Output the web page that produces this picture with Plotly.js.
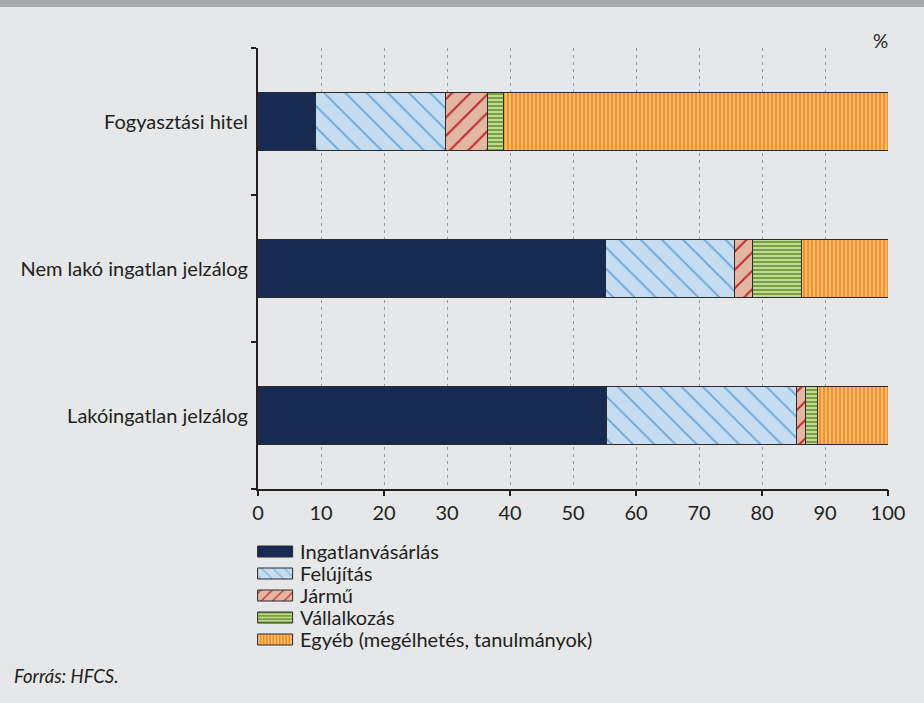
<!DOCTYPE html>
<html>
<head>
<meta charset="utf-8">
<script src="https://cdn.plot.ly/plotly-3.0.1.min.js"></script>
<style>
html,body{margin:0;padding:0;background:#e6e7e8;}
#chart{width:924px;height:703px;}
</style>
</head>
<body>
<div id="chart"></div>
<script>
// Categories (bottom to top as drawn)
const categories = ["Lakóingatlan jelzálog", "Nem lakó ingatlan jelzálog", "Fogyasztási hitel"];
const seriesNames = ["Ingatlanvásárlás", "Felújítás", "Jármű", "Vállalkozás", "Egyéb (megélhetés, tanulmányok)"];
// values in %, same order as categories
const ingatlanvasarlas = [55.3, 55.2, 9.1];
const felujitas = [30.2, 20.4, 20.6];
const jarmu = [1.4, 2.9, 6.8];
const vallalkozas = [1.9, 7.7, 2.4];
const egyeb = [11.2, 13.8, 61.1];
const xTicks = [0, 10, 20, 30, 40, 50, 60, 70, 80, 90, 100];
const xMajorTicks = [0, 20, 40, 60, 80, 100];

const font = "Lato, Open Sans, sans-serif";
const txt = "#231f20";
const outline = {color: "#2b2b2b", width: 1};

const styles = [
  {color: "#172a52"},
  {color: "#c6ddf1", pattern: {shape: "\\", bgcolor: "#c6ddf1", fgcolor: "#72acd9", size: 15, solidity: 0.13}},
  {color: "#e3b5a2", pattern: {shape: "/", bgcolor: "#e3b5a2", fgcolor: "#bd2b2e", size: 13, solidity: 0.15}},
  {color: "#78a23c", pattern: {shape: "-", bgcolor: "#c8dca4", fgcolor: "#78a23c", size: 4, solidity: 0.55}},
  {color: "#f7901e", pattern: {shape: "|", bgcolor: "#fdc791", fgcolor: "#f7901e", size: 4, solidity: 0.6}}
];
const seriesValues = [ingatlanvasarlas, felujitas, jarmu, vallalkozas, egyeb];

const traces = seriesNames.map((name, i) => {
  const m = Object.assign({line: outline}, styles[i]);
  return {
    type: "bar", orientation: "h", name: name,
    y: categories, x: seriesValues[i],
    marker: m, hoverinfo: "skip"
  };
});
// empty trace so the overlaying axis with the long ticks is drawn
traces.push({type: "scatter", x: [], y: [], xaxis: "x2", yaxis: "y", showlegend: false, hoverinfo: "skip"});

const layout = {
  width: 924, height: 703,
  paper_bgcolor: "#e6e7e8", plot_bgcolor: "#e6e7e8",
  margin: {l: 258, r: 36, t: 48, b: 214},
  barmode: "stack", bargap: 0.6,
  showlegend: true,
  font: {family: font, size: 20, color: txt},
  xaxis: {
    range: [0, 100], tickvals: xTicks, ticktext: xTicks.map(String),
    showgrid: true, gridcolor: "#9a9a9a", gridwidth: 1, griddash: "3px,4px",
    showline: true, linecolor: txt, linewidth: 2,
    ticks: "", tickfont: {size: 20, family: font, color: txt}, ticklabelstandoff: 5,
    zeroline: false, fixedrange: true
  },
  xaxis2: {
    overlaying: "x", side: "bottom", range: [0, 100], tickvals: xMajorTicks,
    showticklabels: false, ticks: "outside", ticklen: 6, tickwidth: 2, tickcolor: txt,
    showgrid: false, showline: false, zeroline: false
  },
  yaxis: {
    type: "category", categoryorder: "array", categoryarray: categories,
    showline: true, linecolor: txt, linewidth: 2,
    ticks: "outside", tickson: "boundaries", ticklen: 5, tickwidth: 2, tickcolor: txt,
    showgrid: false, zeroline: false, ticklabelstandoff: 4,
    tickfont: {size: 20, family: font, color: txt}, fixedrange: true
  },
  legend: {
    x: -0.003, xanchor: "left", y: -(532 - 489) / 441, yanchor: "top",
    orientation: "v", traceorder: "normal",
    bgcolor: "rgba(0,0,0,0)", font: {size: 20, family: font, color: txt},
    itemwidth: 34, tracegroupgap: 0
  },
  shapes: [
    {type: "rect", xref: "paper", yref: "paper", x0: -0.5, x1: 1.2,
     y0: (489 - 0) / 441, y1: (489 - 7) / 441, fillcolor: "#a7a8ab", line: {width: 0}, layer: "above"}
  ],
  annotations: [
    {text: "%", xref: "paper", yref: "paper", x: 0.988, y: (489 - 40.5) / 441, xanchor: "center", yanchor: "middle",
     showarrow: false, font: {size: 19, family: font, color: txt}},
    {text: "<i>Forrás: HFCS.</i>", xref: "paper", yref: "paper", x: (12 - 258) / 630, y: (489 - 676) / 441,
     xanchor: "left", yanchor: "middle", showarrow: false, font: {size: 18.5, family: font, color: txt}}
  ]
};

Plotly.newPlot("chart", traces, layout, {displayModeBar: false, staticPlot: true}).then(gd => {
  // wide, flat legend swatches like the original
  gd.querySelectorAll(".legend .traces .legendpoints path").forEach(p => {
    p.setAttribute("d", "M14.5,5.5H-20.5V-5.5H14.5Z");
  });
  // tighter row spacing, as in the original legend
  const items = gd.querySelectorAll(".legend .traces");
  let y0 = null;
  items.forEach((g, i) => {
    const m = /translate\(\s*([-\d.]+)[ ,]+([-\d.]+)\s*\)/.exec(g.getAttribute("transform") || "");
    if (!m) return;
    if (y0 === null) y0 = parseFloat(m[2]);
    g.setAttribute("transform", "translate(" + m[1] + "," + (y0 + 22 * i) + ")");
  });
});
</script>
</body>
</html>
